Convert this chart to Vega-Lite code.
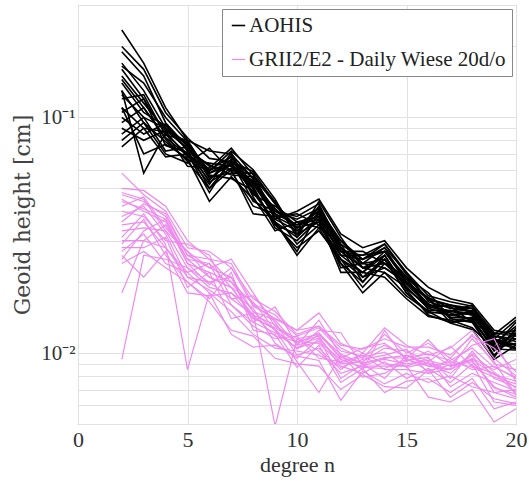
{
"$schema":"https://vega.github.io/schema/vega-lite/v6.json",
"width":438,"height":419,"autosize":{"type":"none"},
"padding":{"left":78,"top":5,"right":13,"bottom":59},
"background":"white",
"config":{"view":{"stroke":"#9a9a9a","strokeWidth":1}},
"datasets":{"d":[
{"g":"A","i":1,"n":2,"v":0.235},{"g":"A","i":1,"n":3,"v":0.17},{"g":"A","i":1,"n":4,"v":0.11},{"g":"A","i":1,"n":5,"v":0.08},{"g":"A","i":1,"n":6,"v":0.072},{"g":"A","i":1,"n":7,"v":0.07},{"g":"A","i":1,"n":8,"v":0.055},{"g":"A","i":1,"n":9,"v":0.04},{"g":"A","i":1,"n":10,"v":0.035},{"g":"A","i":1,"n":11,"v":0.04},{"g":"A","i":1,"n":12,"v":0.029},{"g":"A","i":1,"n":13,"v":0.025},{"g":"A","i":1,"n":14,"v":0.027},{"g":"A","i":1,"n":15,"v":0.021},{"g":"A","i":1,"n":16,"v":0.017},{"g":"A","i":1,"n":17,"v":0.016},{"g":"A","i":1,"n":18,"v":0.015},{"g":"A","i":1,"n":19,"v":0.012},{"g":"A","i":1,"n":20,"v":0.0125},
{"g":"A","i":2,"n":2,"v":0.19},{"g":"A","i":2,"n":3,"v":0.15},{"g":"A","i":2,"n":4,"v":0.095},{"g":"A","i":2,"n":5,"v":0.075},{"g":"A","i":2,"n":6,"v":0.06},{"g":"A","i":2,"n":7,"v":0.068},{"g":"A","i":2,"n":8,"v":0.052},{"g":"A","i":2,"n":9,"v":0.038},{"g":"A","i":2,"n":10,"v":0.034},{"g":"A","i":2,"n":11,"v":0.041},{"g":"A","i":2,"n":12,"v":0.028},{"g":"A","i":2,"n":13,"v":0.024},{"g":"A","i":2,"n":14,"v":0.028},{"g":"A","i":2,"n":15,"v":0.02},{"g":"A","i":2,"n":16,"v":0.016},{"g":"A","i":2,"n":17,"v":0.015},{"g":"A","i":2,"n":18,"v":0.016},{"g":"A","i":2,"n":19,"v":0.011},{"g":"A","i":2,"n":20,"v":0.012},
{"g":"A","i":3,"n":2,"v":0.17},{"g":"A","i":3,"n":3,"v":0.13},{"g":"A","i":3,"n":4,"v":0.09},{"g":"A","i":3,"n":5,"v":0.078},{"g":"A","i":3,"n":6,"v":0.055},{"g":"A","i":3,"n":7,"v":0.064},{"g":"A","i":3,"n":8,"v":0.048},{"g":"A","i":3,"n":9,"v":0.036},{"g":"A","i":3,"n":10,"v":0.031},{"g":"A","i":3,"n":11,"v":0.038},{"g":"A","i":3,"n":12,"v":0.026},{"g":"A","i":3,"n":13,"v":0.022},{"g":"A","i":3,"n":14,"v":0.026},{"g":"A","i":3,"n":15,"v":0.019},{"g":"A","i":3,"n":16,"v":0.0155},{"g":"A","i":3,"n":17,"v":0.0145},{"g":"A","i":3,"n":18,"v":0.014},{"g":"A","i":3,"n":19,"v":0.0105},{"g":"A","i":3,"n":20,"v":0.0115},
{"g":"A","i":4,"n":2,"v":0.16},{"g":"A","i":4,"n":3,"v":0.12},{"g":"A","i":4,"n":4,"v":0.085},{"g":"A","i":4,"n":5,"v":0.07},{"g":"A","i":4,"n":6,"v":0.058},{"g":"A","i":4,"n":7,"v":0.066},{"g":"A","i":4,"n":8,"v":0.05},{"g":"A","i":4,"n":9,"v":0.035},{"g":"A","i":4,"n":10,"v":0.032},{"g":"A","i":4,"n":11,"v":0.036},{"g":"A","i":4,"n":12,"v":0.027},{"g":"A","i":4,"n":13,"v":0.023},{"g":"A","i":4,"n":14,"v":0.024},{"g":"A","i":4,"n":15,"v":0.0195},{"g":"A","i":4,"n":16,"v":0.016},{"g":"A","i":4,"n":17,"v":0.015},{"g":"A","i":4,"n":18,"v":0.0145},{"g":"A","i":4,"n":19,"v":0.011},{"g":"A","i":4,"n":20,"v":0.013},
{"g":"A","i":5,"n":2,"v":0.15},{"g":"A","i":5,"n":3,"v":0.115},{"g":"A","i":5,"n":4,"v":0.088},{"g":"A","i":5,"n":5,"v":0.074},{"g":"A","i":5,"n":6,"v":0.062},{"g":"A","i":5,"n":7,"v":0.06},{"g":"A","i":5,"n":8,"v":0.054},{"g":"A","i":5,"n":9,"v":0.039},{"g":"A","i":5,"n":10,"v":0.029},{"g":"A","i":5,"n":11,"v":0.035},{"g":"A","i":5,"n":12,"v":0.025},{"g":"A","i":5,"n":13,"v":0.021},{"g":"A","i":5,"n":14,"v":0.025},{"g":"A","i":5,"n":15,"v":0.018},{"g":"A","i":5,"n":16,"v":0.015},{"g":"A","i":5,"n":17,"v":0.0145},{"g":"A","i":5,"n":18,"v":0.015},{"g":"A","i":5,"n":19,"v":0.0115},{"g":"A","i":5,"n":20,"v":0.0105},
{"g":"A","i":6,"n":2,"v":0.145},{"g":"A","i":6,"n":3,"v":0.11},{"g":"A","i":6,"n":4,"v":0.082},{"g":"A","i":6,"n":5,"v":0.069},{"g":"A","i":6,"n":6,"v":0.052},{"g":"A","i":6,"n":7,"v":0.071},{"g":"A","i":6,"n":8,"v":0.047},{"g":"A","i":6,"n":9,"v":0.042},{"g":"A","i":6,"n":10,"v":0.036},{"g":"A","i":6,"n":11,"v":0.034},{"g":"A","i":6,"n":12,"v":0.03},{"g":"A","i":6,"n":13,"v":0.024},{"g":"A","i":6,"n":14,"v":0.023},{"g":"A","i":6,"n":15,"v":0.02},{"g":"A","i":6,"n":16,"v":0.017},{"g":"A","i":6,"n":17,"v":0.014},{"g":"A","i":6,"n":18,"v":0.0135},{"g":"A","i":6,"n":19,"v":0.0098},{"g":"A","i":6,"n":20,"v":0.012},
{"g":"A","i":7,"n":2,"v":0.14},{"g":"A","i":7,"n":3,"v":0.105},{"g":"A","i":7,"n":4,"v":0.092},{"g":"A","i":7,"n":5,"v":0.076},{"g":"A","i":7,"n":6,"v":0.056},{"g":"A","i":7,"n":7,"v":0.058},{"g":"A","i":7,"n":8,"v":0.058},{"g":"A","i":7,"n":9,"v":0.037},{"g":"A","i":7,"n":10,"v":0.033},{"g":"A","i":7,"n":11,"v":0.039},{"g":"A","i":7,"n":12,"v":0.026},{"g":"A","i":7,"n":13,"v":0.026},{"g":"A","i":7,"n":14,"v":0.029},{"g":"A","i":7,"n":15,"v":0.022},{"g":"A","i":7,"n":16,"v":0.0165},{"g":"A","i":7,"n":17,"v":0.0155},{"g":"A","i":7,"n":18,"v":0.0155},{"g":"A","i":7,"n":19,"v":0.012},{"g":"A","i":7,"n":20,"v":0.0142},
{"g":"A","i":8,"n":2,"v":0.13},{"g":"A","i":8,"n":3,"v":0.095},{"g":"A","i":8,"n":4,"v":0.079},{"g":"A","i":8,"n":5,"v":0.066},{"g":"A","i":8,"n":6,"v":0.064},{"g":"A","i":8,"n":7,"v":0.062},{"g":"A","i":8,"n":8,"v":0.051},{"g":"A","i":8,"n":9,"v":0.034},{"g":"A","i":8,"n":10,"v":0.03},{"g":"A","i":8,"n":11,"v":0.037},{"g":"A","i":8,"n":12,"v":0.024},{"g":"A","i":8,"n":13,"v":0.02},{"g":"A","i":8,"n":14,"v":0.026},{"g":"A","i":8,"n":15,"v":0.0185},{"g":"A","i":8,"n":16,"v":0.0145},{"g":"A","i":8,"n":17,"v":0.0135},{"g":"A","i":8,"n":18,"v":0.0138},{"g":"A","i":8,"n":19,"v":0.0105},{"g":"A","i":8,"n":20,"v":0.011},
{"g":"A","i":9,"n":2,"v":0.125},{"g":"A","i":9,"n":3,"v":0.1},{"g":"A","i":9,"n":4,"v":0.09},{"g":"A","i":9,"n":5,"v":0.073},{"g":"A","i":9,"n":6,"v":0.05},{"g":"A","i":9,"n":7,"v":0.065},{"g":"A","i":9,"n":8,"v":0.044},{"g":"A","i":9,"n":9,"v":0.04},{"g":"A","i":9,"n":10,"v":0.038},{"g":"A","i":9,"n":11,"v":0.043},{"g":"A","i":9,"n":12,"v":0.028},{"g":"A","i":9,"n":13,"v":0.023},{"g":"A","i":9,"n":14,"v":0.022},{"g":"A","i":9,"n":15,"v":0.019},{"g":"A","i":9,"n":16,"v":0.0155},{"g":"A","i":9,"n":17,"v":0.016},{"g":"A","i":9,"n":18,"v":0.0148},{"g":"A","i":9,"n":19,"v":0.0112},{"g":"A","i":9,"n":20,"v":0.0108},
{"g":"A","i":10,"n":2,"v":0.12},{"g":"A","i":10,"n":3,"v":0.125},{"g":"A","i":10,"n":4,"v":0.084},{"g":"A","i":10,"n":5,"v":0.08},{"g":"A","i":10,"n":6,"v":0.057},{"g":"A","i":10,"n":7,"v":0.055},{"g":"A","i":10,"n":8,"v":0.049},{"g":"A","i":10,"n":9,"v":0.036},{"g":"A","i":10,"n":10,"v":0.027},{"g":"A","i":10,"n":11,"v":0.04},{"g":"A","i":10,"n":12,"v":0.027},{"g":"A","i":10,"n":13,"v":0.027},{"g":"A","i":10,"n":14,"v":0.024},{"g":"A","i":10,"n":15,"v":0.021},{"g":"A","i":10,"n":16,"v":0.018},{"g":"A","i":10,"n":17,"v":0.0142},{"g":"A","i":10,"n":18,"v":0.014},{"g":"A","i":10,"n":19,"v":0.0102},{"g":"A","i":10,"n":20,"v":0.0125},
{"g":"A","i":11,"n":2,"v":0.11},{"g":"A","i":11,"n":3,"v":0.09},{"g":"A","i":11,"n":4,"v":0.087},{"g":"A","i":11,"n":5,"v":0.068},{"g":"A","i":11,"n":6,"v":0.06},{"g":"A","i":11,"n":7,"v":0.063},{"g":"A","i":11,"n":8,"v":0.053},{"g":"A","i":11,"n":9,"v":0.041},{"g":"A","i":11,"n":10,"v":0.034},{"g":"A","i":11,"n":11,"v":0.036},{"g":"A","i":11,"n":12,"v":0.025},{"g":"A","i":11,"n":13,"v":0.022},{"g":"A","i":11,"n":14,"v":0.027},{"g":"A","i":11,"n":15,"v":0.0205},{"g":"A","i":11,"n":16,"v":0.016},{"g":"A","i":11,"n":17,"v":0.0158},{"g":"A","i":11,"n":18,"v":0.0135},{"g":"A","i":11,"n":19,"v":0.0118},{"g":"A","i":11,"n":20,"v":0.0112},
{"g":"A","i":12,"n":2,"v":0.105},{"g":"A","i":12,"n":3,"v":0.12},{"g":"A","i":12,"n":4,"v":0.076},{"g":"A","i":12,"n":5,"v":0.071},{"g":"A","i":12,"n":6,"v":0.054},{"g":"A","i":12,"n":7,"v":0.069},{"g":"A","i":12,"n":8,"v":0.046},{"g":"A","i":12,"n":9,"v":0.033},{"g":"A","i":12,"n":10,"v":0.036},{"g":"A","i":12,"n":11,"v":0.038},{"g":"A","i":12,"n":12,"v":0.023},{"g":"A","i":12,"n":13,"v":0.024},{"g":"A","i":12,"n":14,"v":0.025},{"g":"A","i":12,"n":15,"v":0.018},{"g":"A","i":12,"n":16,"v":0.0148},{"g":"A","i":12,"n":17,"v":0.015},{"g":"A","i":12,"n":18,"v":0.0152},{"g":"A","i":12,"n":19,"v":0.0108},{"g":"A","i":12,"n":20,"v":0.0135},
{"g":"A","i":13,"n":2,"v":0.1},{"g":"A","i":13,"n":3,"v":0.085},{"g":"A","i":13,"n":4,"v":0.094},{"g":"A","i":13,"n":5,"v":0.072},{"g":"A","i":13,"n":6,"v":0.063},{"g":"A","i":13,"n":7,"v":0.057},{"g":"A","i":13,"n":8,"v":0.056},{"g":"A","i":13,"n":9,"v":0.043},{"g":"A","i":13,"n":10,"v":0.032},{"g":"A","i":13,"n":11,"v":0.042},{"g":"A","i":13,"n":12,"v":0.029},{"g":"A","i":13,"n":13,"v":0.021},{"g":"A","i":13,"n":14,"v":0.023},{"g":"A","i":13,"n":15,"v":0.0198},{"g":"A","i":13,"n":16,"v":0.017},{"g":"A","i":13,"n":17,"v":0.0135},{"g":"A","i":13,"n":18,"v":0.0142},{"g":"A","i":13,"n":19,"v":0.0112},{"g":"A","i":13,"n":20,"v":0.0104},
{"g":"A","i":14,"n":2,"v":0.095},{"g":"A","i":14,"n":3,"v":0.11},{"g":"A","i":14,"n":4,"v":0.081},{"g":"A","i":14,"n":5,"v":0.065},{"g":"A","i":14,"n":6,"v":0.05},{"g":"A","i":14,"n":7,"v":0.06},{"g":"A","i":14,"n":8,"v":0.039},{"g":"A","i":14,"n":9,"v":0.038},{"g":"A","i":14,"n":10,"v":0.039},{"g":"A","i":14,"n":11,"v":0.035},{"g":"A","i":14,"n":12,"v":0.026},{"g":"A","i":14,"n":13,"v":0.025},{"g":"A","i":14,"n":14,"v":0.028},{"g":"A","i":14,"n":15,"v":0.022},{"g":"A","i":14,"n":16,"v":0.0175},{"g":"A","i":14,"n":17,"v":0.0165},{"g":"A","i":14,"n":18,"v":0.0158},{"g":"A","i":14,"n":19,"v":0.0122},{"g":"A","i":14,"n":20,"v":0.0118},
{"g":"A","i":15,"n":2,"v":0.09},{"g":"A","i":15,"n":3,"v":0.08},{"g":"A","i":15,"n":4,"v":0.088},{"g":"A","i":15,"n":5,"v":0.077},{"g":"A","i":15,"n":6,"v":0.059},{"g":"A","i":15,"n":7,"v":0.072},{"g":"A","i":15,"n":8,"v":0.06},{"g":"A","i":15,"n":9,"v":0.045},{"g":"A","i":15,"n":10,"v":0.031},{"g":"A","i":15,"n":11,"v":0.044},{"g":"A","i":15,"n":12,"v":0.031},{"g":"A","i":15,"n":13,"v":0.023},{"g":"A","i":15,"n":14,"v":0.026},{"g":"A","i":15,"n":15,"v":0.0188},{"g":"A","i":15,"n":16,"v":0.0158},{"g":"A","i":15,"n":17,"v":0.0148},{"g":"A","i":15,"n":18,"v":0.0138},{"g":"A","i":15,"n":19,"v":0.0096},{"g":"A","i":15,"n":20,"v":0.0128},
{"g":"A","i":16,"n":2,"v":0.085},{"g":"A","i":16,"n":3,"v":0.1},{"g":"A","i":16,"n":4,"v":0.072},{"g":"A","i":16,"n":5,"v":0.075},{"g":"A","i":16,"n":6,"v":0.053},{"g":"A","i":16,"n":7,"v":0.061},{"g":"A","i":16,"n":8,"v":0.05},{"g":"A","i":16,"n":9,"v":0.035},{"g":"A","i":16,"n":10,"v":0.028},{"g":"A","i":16,"n":11,"v":0.033},{"g":"A","i":16,"n":12,"v":0.025},{"g":"A","i":16,"n":13,"v":0.019},{"g":"A","i":16,"n":14,"v":0.024},{"g":"A","i":16,"n":15,"v":0.021},{"g":"A","i":16,"n":16,"v":0.0152},{"g":"A","i":16,"n":17,"v":0.0152},{"g":"A","i":16,"n":18,"v":0.0145},{"g":"A","i":16,"n":19,"v":0.0114},{"g":"A","i":16,"n":20,"v":0.0109},
{"g":"A","i":17,"n":2,"v":0.08},{"g":"A","i":17,"n":3,"v":0.095},{"g":"A","i":17,"n":4,"v":0.07},{"g":"A","i":17,"n":5,"v":0.064},{"g":"A","i":17,"n":6,"v":0.074},{"g":"A","i":17,"n":7,"v":0.059},{"g":"A","i":17,"n":8,"v":0.042},{"g":"A","i":17,"n":9,"v":0.039},{"g":"A","i":17,"n":10,"v":0.035},{"g":"A","i":17,"n":11,"v":0.037},{"g":"A","i":17,"n":12,"v":0.022},{"g":"A","i":17,"n":13,"v":0.022},{"g":"A","i":17,"n":14,"v":0.021},{"g":"A","i":17,"n":15,"v":0.017},{"g":"A","i":17,"n":16,"v":0.0143},{"g":"A","i":17,"n":17,"v":0.0138},{"g":"A","i":17,"n":18,"v":0.0128},{"g":"A","i":17,"n":19,"v":0.0104},{"g":"A","i":17,"n":20,"v":0.0103},
{"g":"A","i":18,"n":2,"v":0.075},{"g":"A","i":18,"n":3,"v":0.09},{"g":"A","i":18,"n":4,"v":0.068},{"g":"A","i":18,"n":5,"v":0.07},{"g":"A","i":18,"n":6,"v":0.048},{"g":"A","i":18,"n":7,"v":0.067},{"g":"A","i":18,"n":8,"v":0.055},{"g":"A","i":18,"n":9,"v":0.037},{"g":"A","i":18,"n":10,"v":0.04},{"g":"A","i":18,"n":11,"v":0.045},{"g":"A","i":18,"n":12,"v":0.032},{"g":"A","i":18,"n":13,"v":0.028},{"g":"A","i":18,"n":14,"v":0.03},{"g":"A","i":18,"n":15,"v":0.023},{"g":"A","i":18,"n":16,"v":0.019},{"g":"A","i":18,"n":17,"v":0.017},{"g":"A","i":18,"n":18,"v":0.0162},{"g":"A","i":18,"n":19,"v":0.0125},{"g":"A","i":18,"n":20,"v":0.012},
{"g":"A","i":19,"n":2,"v":0.13},{"g":"A","i":19,"n":3,"v":0.058},{"g":"A","i":19,"n":4,"v":0.086},{"g":"A","i":19,"n":5,"v":0.062},{"g":"A","i":19,"n":6,"v":0.061},{"g":"A","i":19,"n":7,"v":0.074},{"g":"A","i":19,"n":8,"v":0.057},{"g":"A","i":19,"n":9,"v":0.044},{"g":"A","i":19,"n":10,"v":0.033},{"g":"A","i":19,"n":11,"v":0.039},{"g":"A","i":19,"n":12,"v":0.028},{"g":"A","i":19,"n":13,"v":0.02},{"g":"A","i":19,"n":14,"v":0.025},{"g":"A","i":19,"n":15,"v":0.02},{"g":"A","i":19,"n":16,"v":0.0162},{"g":"A","i":19,"n":17,"v":0.0144},{"g":"A","i":19,"n":18,"v":0.0148},{"g":"A","i":19,"n":19,"v":0.0106},{"g":"A","i":19,"n":20,"v":0.0122},
{"g":"A","i":20,"n":2,"v":0.11},{"g":"A","i":20,"n":3,"v":0.07},{"g":"A","i":20,"n":4,"v":0.077},{"g":"A","i":20,"n":5,"v":0.067},{"g":"A","i":20,"n":6,"v":0.044},{"g":"A","i":20,"n":7,"v":0.056},{"g":"A","i":20,"n":8,"v":0.045},{"g":"A","i":20,"n":9,"v":0.036},{"g":"A","i":20,"n":10,"v":0.026},{"g":"A","i":20,"n":11,"v":0.034},{"g":"A","i":20,"n":12,"v":0.024},{"g":"A","i":20,"n":13,"v":0.018},{"g":"A","i":20,"n":14,"v":0.022},{"g":"A","i":20,"n":15,"v":0.0175},{"g":"A","i":20,"n":16,"v":0.015},{"g":"A","i":20,"n":17,"v":0.0134},{"g":"A","i":20,"n":18,"v":0.0126},{"g":"A","i":20,"n":19,"v":0.0094},{"g":"A","i":20,"n":20,"v":0.0108},
{"g":"A","i":21,"n":2,"v":0.165},{"g":"A","i":21,"n":3,"v":0.14},{"g":"A","i":21,"n":4,"v":0.1},{"g":"A","i":21,"n":5,"v":0.079},{"g":"A","i":21,"n":6,"v":0.058},{"g":"A","i":21,"n":7,"v":0.063},{"g":"A","i":21,"n":8,"v":0.052},{"g":"A","i":21,"n":9,"v":0.04},{"g":"A","i":21,"n":10,"v":0.037},{"g":"A","i":21,"n":11,"v":0.041},{"g":"A","i":21,"n":12,"v":0.03},{"g":"A","i":21,"n":13,"v":0.025},{"g":"A","i":21,"n":14,"v":0.029},{"g":"A","i":21,"n":15,"v":0.0215},{"g":"A","i":21,"n":16,"v":0.0168},{"g":"A","i":21,"n":17,"v":0.016},{"g":"A","i":21,"n":18,"v":0.0155},{"g":"A","i":21,"n":19,"v":0.0115},{"g":"A","i":21,"n":20,"v":0.0138},
{"g":"A","i":22,"n":2,"v":0.2},{"g":"A","i":22,"n":3,"v":0.16},{"g":"A","i":22,"n":4,"v":0.105},{"g":"A","i":22,"n":5,"v":0.082},{"g":"A","i":22,"n":6,"v":0.067},{"g":"A","i":22,"n":7,"v":0.065},{"g":"A","i":22,"n":8,"v":0.059},{"g":"A","i":22,"n":9,"v":0.043},{"g":"A","i":22,"n":10,"v":0.034},{"g":"A","i":22,"n":11,"v":0.04},{"g":"A","i":22,"n":12,"v":0.027},{"g":"A","i":22,"n":13,"v":0.026},{"g":"A","i":22,"n":14,"v":0.027},{"g":"A","i":22,"n":15,"v":0.02},{"g":"A","i":22,"n":16,"v":0.0172},{"g":"A","i":22,"n":17,"v":0.0155},{"g":"A","i":22,"n":18,"v":0.015},{"g":"A","i":22,"n":19,"v":0.0118},{"g":"A","i":22,"n":20,"v":0.0115},
{"g":"G","i":23,"n":2,"v":0.058},{"g":"G","i":23,"n":3,"v":0.047},{"g":"G","i":23,"n":4,"v":0.04},{"g":"G","i":23,"n":5,"v":0.028},{"g":"G","i":23,"n":6,"v":0.027},{"g":"G","i":23,"n":7,"v":0.023},{"g":"G","i":23,"n":8,"v":0.017},{"g":"G","i":23,"n":9,"v":0.015},{"g":"G","i":23,"n":10,"v":0.012},{"g":"G","i":23,"n":11,"v":0.013},{"g":"G","i":23,"n":12,"v":0.0105},{"g":"G","i":23,"n":13,"v":0.0095},{"g":"G","i":23,"n":14,"v":0.012},{"g":"G","i":23,"n":15,"v":0.01},{"g":"G","i":23,"n":16,"v":0.011},{"g":"G","i":23,"n":17,"v":0.0095},{"g":"G","i":23,"n":18,"v":0.012},{"g":"G","i":23,"n":19,"v":0.009},{"g":"G","i":23,"n":20,"v":0.0085},
{"g":"G","i":24,"n":2,"v":0.05},{"g":"G","i":24,"n":3,"v":0.049},{"g":"G","i":24,"n":4,"v":0.042},{"g":"G","i":24,"n":5,"v":0.03},{"g":"G","i":24,"n":6,"v":0.025},{"g":"G","i":24,"n":7,"v":0.024},{"g":"G","i":24,"n":8,"v":0.016},{"g":"G","i":24,"n":9,"v":0.014},{"g":"G","i":24,"n":10,"v":0.0125},{"g":"G","i":24,"n":11,"v":0.0148},{"g":"G","i":24,"n":12,"v":0.011},{"g":"G","i":24,"n":13,"v":0.01},{"g":"G","i":24,"n":14,"v":0.0128},{"g":"G","i":24,"n":15,"v":0.0108},{"g":"G","i":24,"n":16,"v":0.0098},{"g":"G","i":24,"n":17,"v":0.0105},{"g":"G","i":24,"n":18,"v":0.0125},{"g":"G","i":24,"n":19,"v":0.0095},{"g":"G","i":24,"n":20,"v":0.008},
{"g":"G","i":25,"n":2,"v":0.047},{"g":"G","i":25,"n":3,"v":0.044},{"g":"G","i":25,"n":4,"v":0.038},{"g":"G","i":25,"n":5,"v":0.026},{"g":"G","i":25,"n":6,"v":0.023},{"g":"G","i":25,"n":7,"v":0.025},{"g":"G","i":25,"n":8,"v":0.018},{"g":"G","i":25,"n":9,"v":0.013},{"g":"G","i":25,"n":10,"v":0.0115},{"g":"G","i":25,"n":11,"v":0.012},{"g":"G","i":25,"n":12,"v":0.0095},{"g":"G","i":25,"n":13,"v":0.0105},{"g":"G","i":25,"n":14,"v":0.011},{"g":"G","i":25,"n":15,"v":0.0095},{"g":"G","i":25,"n":16,"v":0.0114},{"g":"G","i":25,"n":17,"v":0.009},{"g":"G","i":25,"n":18,"v":0.0108},{"g":"G","i":25,"n":19,"v":0.0115},{"g":"G","i":25,"n":20,"v":0.0075},
{"g":"G","i":26,"n":2,"v":0.045},{"g":"G","i":26,"n":3,"v":0.04},{"g":"G","i":26,"n":4,"v":0.036},{"g":"G","i":26,"n":5,"v":0.024},{"g":"G","i":26,"n":6,"v":0.022},{"g":"G","i":26,"n":7,"v":0.02},{"g":"G","i":26,"n":8,"v":0.015},{"g":"G","i":26,"n":9,"v":0.0125},{"g":"G","i":26,"n":10,"v":0.0105},{"g":"G","i":26,"n":11,"v":0.0125},{"g":"G","i":26,"n":12,"v":0.0122},{"g":"G","i":26,"n":13,"v":0.0088},{"g":"G","i":26,"n":14,"v":0.0095},{"g":"G","i":26,"n":15,"v":0.0098},{"g":"G","i":26,"n":16,"v":0.0088},{"g":"G","i":26,"n":17,"v":0.0085},{"g":"G","i":26,"n":18,"v":0.0095},{"g":"G","i":26,"n":19,"v":0.0085},{"g":"G","i":26,"n":20,"v":0.0094},
{"g":"G","i":27,"n":2,"v":0.042},{"g":"G","i":27,"n":3,"v":0.046},{"g":"G","i":27,"n":4,"v":0.034},{"g":"G","i":27,"n":5,"v":0.027},{"g":"G","i":27,"n":6,"v":0.021},{"g":"G","i":27,"n":7,"v":0.019},{"g":"G","i":27,"n":8,"v":0.0145},{"g":"G","i":27,"n":9,"v":0.0118},{"g":"G","i":27,"n":10,"v":0.0112},{"g":"G","i":27,"n":11,"v":0.011},{"g":"G","i":27,"n":12,"v":0.009},{"g":"G","i":27,"n":13,"v":0.0092},{"g":"G","i":27,"n":14,"v":0.0105},{"g":"G","i":27,"n":15,"v":0.0102},{"g":"G","i":27,"n":16,"v":0.0092},{"g":"G","i":27,"n":17,"v":0.0107},{"g":"G","i":27,"n":18,"v":0.0088},{"g":"G","i":27,"n":19,"v":0.0082},{"g":"G","i":27,"n":20,"v":0.0068},
{"g":"G","i":28,"n":2,"v":0.04},{"g":"G","i":28,"n":3,"v":0.038},{"g":"G","i":28,"n":4,"v":0.03},{"g":"G","i":28,"n":5,"v":0.029},{"g":"G","i":28,"n":6,"v":0.026},{"g":"G","i":28,"n":7,"v":0.017},{"g":"G","i":28,"n":8,"v":0.0175},{"g":"G","i":28,"n":9,"v":0.0135},{"g":"G","i":28,"n":10,"v":0.0098},{"g":"G","i":28,"n":11,"v":0.0105},{"g":"G","i":28,"n":12,"v":0.0085},{"g":"G","i":28,"n":13,"v":0.01},{"g":"G","i":28,"n":14,"v":0.009},{"g":"G","i":28,"n":15,"v":0.0088},{"g":"G","i":28,"n":16,"v":0.0095},{"g":"G","i":28,"n":17,"v":0.0078},{"g":"G","i":28,"n":18,"v":0.0102},{"g":"G","i":28,"n":19,"v":0.0078},{"g":"G","i":28,"n":20,"v":0.0072},
{"g":"G","i":29,"n":2,"v":0.038},{"g":"G","i":29,"n":3,"v":0.042},{"g":"G","i":29,"n":4,"v":0.032},{"g":"G","i":29,"n":5,"v":0.021},{"g":"G","i":29,"n":6,"v":0.02},{"g":"G","i":29,"n":7,"v":0.021},{"g":"G","i":29,"n":8,"v":0.0135},{"g":"G","i":29,"n":9,"v":0.0157},{"g":"G","i":29,"n":10,"v":0.0108},{"g":"G","i":29,"n":11,"v":0.0138},{"g":"G","i":29,"n":12,"v":0.0098},{"g":"G","i":29,"n":13,"v":0.0085},{"g":"G","i":29,"n":14,"v":0.0125},{"g":"G","i":29,"n":15,"v":0.0092},{"g":"G","i":29,"n":16,"v":0.0102},{"g":"G","i":29,"n":17,"v":0.0088},{"g":"G","i":29,"n":18,"v":0.0092},{"g":"G","i":29,"n":19,"v":0.0072},{"g":"G","i":29,"n":20,"v":0.0065},
{"g":"G","i":30,"n":2,"v":0.035},{"g":"G","i":30,"n":3,"v":0.036},{"g":"G","i":30,"n":4,"v":0.028},{"g":"G","i":30,"n":5,"v":0.022},{"g":"G","i":30,"n":6,"v":0.024},{"g":"G","i":30,"n":7,"v":0.016},{"g":"G","i":30,"n":8,"v":0.013},{"g":"G","i":30,"n":9,"v":0.0115},{"g":"G","i":30,"n":10,"v":0.0118},{"g":"G","i":30,"n":11,"v":0.0095},{"g":"G","i":30,"n":12,"v":0.0092},{"g":"G","i":30,"n":13,"v":0.0098},{"g":"G","i":30,"n":14,"v":0.0085},{"g":"G","i":30,"n":15,"v":0.0085},{"g":"G","i":30,"n":16,"v":0.0082},{"g":"G","i":30,"n":17,"v":0.0095},{"g":"G","i":30,"n":18,"v":0.0085},{"g":"G","i":30,"n":19,"v":0.0088},{"g":"G","i":30,"n":20,"v":0.0078},
{"g":"G","i":31,"n":2,"v":0.033},{"g":"G","i":31,"n":3,"v":0.034},{"g":"G","i":31,"n":4,"v":0.033},{"g":"G","i":31,"n":5,"v":0.023},{"g":"G","i":31,"n":6,"v":0.019},{"g":"G","i":31,"n":7,"v":0.018},{"g":"G","i":31,"n":8,"v":0.0155},{"g":"G","i":31,"n":9,"v":0.011},{"g":"G","i":31,"n":10,"v":0.0095},{"g":"G","i":31,"n":11,"v":0.0115},{"g":"G","i":31,"n":12,"v":0.0078},{"g":"G","i":31,"n":13,"v":0.009},{"g":"G","i":31,"n":14,"v":0.0078},{"g":"G","i":31,"n":15,"v":0.0098},{"g":"G","i":31,"n":16,"v":0.009},{"g":"G","i":31,"n":17,"v":0.0082},{"g":"G","i":31,"n":18,"v":0.0098},{"g":"G","i":31,"n":19,"v":0.0068},{"g":"G","i":31,"n":20,"v":0.007},
{"g":"G","i":32,"n":2,"v":0.031},{"g":"G","i":32,"n":3,"v":0.039},{"g":"G","i":32,"n":4,"v":0.029},{"g":"G","i":32,"n":5,"v":0.0085},{"g":"G","i":32,"n":6,"v":0.018},{"g":"G","i":32,"n":7,"v":0.015},{"g":"G","i":32,"n":8,"v":0.012},{"g":"G","i":32,"n":9,"v":0.0105},{"g":"G","i":32,"n":10,"v":0.0102},{"g":"G","i":32,"n":11,"v":0.0098},{"g":"G","i":32,"n":12,"v":0.0088},{"g":"G","i":32,"n":13,"v":0.0082},{"g":"G","i":32,"n":14,"v":0.0092},{"g":"G","i":32,"n":15,"v":0.0078},{"g":"G","i":32,"n":16,"v":0.0086},{"g":"G","i":32,"n":17,"v":0.0075},{"g":"G","i":32,"n":18,"v":0.009},{"g":"G","i":32,"n":19,"v":0.0062},{"g":"G","i":32,"n":20,"v":0.006},
{"g":"G","i":33,"n":2,"v":0.03},{"g":"G","i":33,"n":3,"v":0.03},{"g":"G","i":33,"n":4,"v":0.035},{"g":"G","i":33,"n":5,"v":0.025},{"g":"G","i":33,"n":6,"v":0.021},{"g":"G","i":33,"n":7,"v":0.019},{"g":"G","i":33,"n":8,"v":0.0165},{"g":"G","i":33,"n":9,"v":0.0125},{"g":"G","i":33,"n":10,"v":0.0092},{"g":"G","i":33,"n":11,"v":0.0068},{"g":"G","i":33,"n":12,"v":0.0098},{"g":"G","i":33,"n":13,"v":0.0079},{"g":"G","i":33,"n":14,"v":0.0082},{"g":"G","i":33,"n":15,"v":0.0093},{"g":"G","i":33,"n":16,"v":0.0096},{"g":"G","i":33,"n":17,"v":0.0072},{"g":"G","i":33,"n":18,"v":0.0082},{"g":"G","i":33,"n":19,"v":0.0075},{"g":"G","i":33,"n":20,"v":0.0069},
{"g":"G","i":34,"n":2,"v":0.029},{"g":"G","i":34,"n":3,"v":0.037},{"g":"G","i":34,"n":4,"v":0.026},{"g":"G","i":34,"n":5,"v":0.02},{"g":"G","i":34,"n":6,"v":0.017},{"g":"G","i":34,"n":7,"v":0.022},{"g":"G","i":34,"n":8,"v":0.0125},{"g":"G","i":34,"n":9,"v":0.012},{"g":"G","i":34,"n":10,"v":0.0087},{"g":"G","i":34,"n":11,"v":0.0108},{"g":"G","i":34,"n":12,"v":0.0075},{"g":"G","i":34,"n":13,"v":0.0086},{"g":"G","i":34,"n":14,"v":0.0068},{"g":"G","i":34,"n":15,"v":0.0076},{"g":"G","i":34,"n":16,"v":0.0078},{"g":"G","i":34,"n":17,"v":0.0068},{"g":"G","i":34,"n":18,"v":0.0078},{"g":"G","i":34,"n":19,"v":0.0058},{"g":"G","i":34,"n":20,"v":0.0062},
{"g":"G","i":35,"n":2,"v":0.028},{"g":"G","i":35,"n":3,"v":0.028},{"g":"G","i":35,"n":4,"v":0.031},{"g":"G","i":35,"n":5,"v":0.019},{"g":"G","i":35,"n":6,"v":0.022},{"g":"G","i":35,"n":7,"v":0.014},{"g":"G","i":35,"n":8,"v":0.0148},{"g":"G","i":35,"n":9,"v":0.0049},{"g":"G","i":35,"n":10,"v":0.0115},{"g":"G","i":35,"n":11,"v":0.0102},{"g":"G","i":35,"n":12,"v":0.0082},{"g":"G","i":35,"n":13,"v":0.0088},{"g":"G","i":35,"n":14,"v":0.0088},{"g":"G","i":35,"n":15,"v":0.0088},{"g":"G","i":35,"n":16,"v":0.0065},{"g":"G","i":35,"n":17,"v":0.0062},{"g":"G","i":35,"n":18,"v":0.007},{"g":"G","i":35,"n":19,"v":0.0051},{"g":"G","i":35,"n":20,"v":0.0058},
{"g":"G","i":36,"n":2,"v":0.027},{"g":"G","i":36,"n":3,"v":0.032},{"g":"G","i":36,"n":4,"v":0.024},{"g":"G","i":36,"n":5,"v":0.022},{"g":"G","i":36,"n":6,"v":0.018},{"g":"G","i":36,"n":7,"v":0.012},{"g":"G","i":36,"n":8,"v":0.0106},{"g":"G","i":36,"n":9,"v":0.0108},{"g":"G","i":36,"n":10,"v":0.0097},{"g":"G","i":36,"n":11,"v":0.0093},{"g":"G","i":36,"n":12,"v":0.0063},{"g":"G","i":36,"n":13,"v":0.0084},{"g":"G","i":36,"n":14,"v":0.0074},{"g":"G","i":36,"n":15,"v":0.0082},{"g":"G","i":36,"n":16,"v":0.0075},{"g":"G","i":36,"n":17,"v":0.008},{"g":"G","i":36,"n":18,"v":0.0072},{"g":"G","i":36,"n":19,"v":0.0068},{"g":"G","i":36,"n":20,"v":0.0064},
{"g":"G","i":37,"n":2,"v":0.026},{"g":"G","i":37,"n":3,"v":0.021},{"g":"G","i":37,"n":4,"v":0.027},{"g":"G","i":37,"n":5,"v":0.018},{"g":"G","i":37,"n":6,"v":0.0175},{"g":"G","i":37,"n":7,"v":0.018},{"g":"G","i":37,"n":8,"v":0.014},{"g":"G","i":37,"n":9,"v":0.0128},{"g":"G","i":37,"n":10,"v":0.0112},{"g":"G","i":37,"n":11,"v":0.0118},{"g":"G","i":37,"n":12,"v":0.0087},{"g":"G","i":37,"n":13,"v":0.0094},{"g":"G","i":37,"n":14,"v":0.0098},{"g":"G","i":37,"n":15,"v":0.0104},{"g":"G","i":37,"n":16,"v":0.0082},{"g":"G","i":37,"n":17,"v":0.0086},{"g":"G","i":37,"n":18,"v":0.0115},{"g":"G","i":37,"n":19,"v":0.0092},{"g":"G","i":37,"n":20,"v":0.0066},
{"g":"G","i":38,"n":2,"v":0.025},{"g":"G","i":38,"n":3,"v":0.033},{"g":"G","i":38,"n":4,"v":0.037},{"g":"G","i":38,"n":5,"v":0.024},{"g":"G","i":38,"n":6,"v":0.0195},{"g":"G","i":38,"n":7,"v":0.023},{"g":"G","i":38,"n":8,"v":0.0158},{"g":"G","i":38,"n":9,"v":0.014},{"g":"G","i":38,"n":10,"v":0.0125},{"g":"G","i":38,"n":11,"v":0.013},{"g":"G","i":38,"n":12,"v":0.0108},{"g":"G","i":38,"n":13,"v":0.0104},{"g":"G","i":38,"n":14,"v":0.0115},{"g":"G","i":38,"n":15,"v":0.0106},{"g":"G","i":38,"n":16,"v":0.0106},{"g":"G","i":38,"n":17,"v":0.0098},{"g":"G","i":38,"n":18,"v":0.0118},{"g":"G","i":38,"n":19,"v":0.0105},{"g":"G","i":38,"n":20,"v":0.0083},
{"g":"G","i":39,"n":2,"v":0.024},{"g":"G","i":39,"n":3,"v":0.027},{"g":"G","i":39,"n":4,"v":0.023},{"g":"G","i":39,"n":5,"v":0.02},{"g":"G","i":39,"n":6,"v":0.0165},{"g":"G","i":39,"n":7,"v":0.0125},{"g":"G","i":39,"n":8,"v":0.0118},{"g":"G","i":39,"n":9,"v":0.0095},{"g":"G","i":39,"n":10,"v":0.009},{"g":"G","i":39,"n":11,"v":0.0088},{"g":"G","i":39,"n":12,"v":0.007},{"g":"G","i":39,"n":13,"v":0.0081},{"g":"G","i":39,"n":14,"v":0.0072},{"g":"G","i":39,"n":15,"v":0.0071},{"g":"G","i":39,"n":16,"v":0.0085},{"g":"G","i":39,"n":17,"v":0.0065},{"g":"G","i":39,"n":18,"v":0.0075},{"g":"G","i":39,"n":19,"v":0.0064},{"g":"G","i":39,"n":20,"v":0.0061},
{"g":"G","i":40,"n":2,"v":0.018},{"g":"G","i":40,"n":3,"v":0.03},{"g":"G","i":40,"n":4,"v":0.028},{"g":"G","i":40,"n":5,"v":0.021},{"g":"G","i":40,"n":6,"v":0.0185},{"g":"G","i":40,"n":7,"v":0.016},{"g":"G","i":40,"n":8,"v":0.0135},{"g":"G","i":40,"n":9,"v":0.0122},{"g":"G","i":40,"n":10,"v":0.0105},{"g":"G","i":40,"n":11,"v":0.0112},{"g":"G","i":40,"n":12,"v":0.0094},{"g":"G","i":40,"n":13,"v":0.0087},{"g":"G","i":40,"n":14,"v":0.0086},{"g":"G","i":40,"n":15,"v":0.0094},{"g":"G","i":40,"n":16,"v":0.0088},{"g":"G","i":40,"n":17,"v":0.0092},{"g":"G","i":40,"n":18,"v":0.0087},{"g":"G","i":40,"n":19,"v":0.0079},{"g":"G","i":40,"n":20,"v":0.0074},
{"g":"G","i":41,"n":2,"v":0.0094},{"g":"G","i":41,"n":3,"v":0.026},{"g":"G","i":41,"n":4,"v":0.025},{"g":"G","i":41,"n":5,"v":0.023},{"g":"G","i":41,"n":6,"v":0.02},{"g":"G","i":41,"n":7,"v":0.017},{"g":"G","i":41,"n":8,"v":0.0145},{"g":"G","i":41,"n":9,"v":0.0132},{"g":"G","i":41,"n":10,"v":0.011},{"g":"G","i":41,"n":11,"v":0.0122},{"g":"G","i":41,"n":12,"v":0.0096},{"g":"G","i":41,"n":13,"v":0.0091},{"g":"G","i":41,"n":14,"v":0.0094},{"g":"G","i":41,"n":15,"v":0.009},{"g":"G","i":41,"n":16,"v":0.0093},{"g":"G","i":41,"n":17,"v":0.0088},{"g":"G","i":41,"n":18,"v":0.0094},{"g":"G","i":41,"n":19,"v":0.0081},{"g":"G","i":41,"n":20,"v":0.0076},
{"g":"G","i":42,"n":2,"v":0.036},{"g":"G","i":42,"n":3,"v":0.043},{"g":"G","i":42,"n":4,"v":0.039},{"g":"G","i":42,"n":5,"v":0.026},{"g":"G","i":42,"n":6,"v":0.025},{"g":"G","i":42,"n":7,"v":0.02},{"g":"G","i":42,"n":8,"v":0.0162},{"g":"G","i":42,"n":9,"v":0.0145},{"g":"G","i":42,"n":10,"v":0.0118},{"g":"G","i":42,"n":11,"v":0.0128},{"g":"G","i":42,"n":12,"v":0.0102},{"g":"G","i":42,"n":13,"v":0.0097},{"g":"G","i":42,"n":14,"v":0.0108},{"g":"G","i":42,"n":15,"v":0.0096},{"g":"G","i":42,"n":16,"v":0.0099},{"g":"G","i":42,"n":17,"v":0.0093},{"g":"G","i":42,"n":18,"v":0.0105},{"g":"G","i":42,"n":19,"v":0.0087},{"g":"G","i":42,"n":20,"v":0.0079},
{"g":"G","i":43,"n":2,"v":0.048},{"g":"G","i":43,"n":3,"v":0.045},{"g":"G","i":43,"n":4,"v":0.033},{"g":"G","i":43,"n":5,"v":0.027},{"g":"G","i":43,"n":6,"v":0.023},{"g":"G","i":43,"n":7,"v":0.021},{"g":"G","i":43,"n":8,"v":0.015},{"g":"G","i":43,"n":9,"v":0.0138},{"g":"G","i":43,"n":10,"v":0.0108},{"g":"G","i":43,"n":11,"v":0.0116},{"g":"G","i":43,"n":12,"v":0.0091},{"g":"G","i":43,"n":13,"v":0.0096},{"g":"G","i":43,"n":14,"v":0.0101},{"g":"G","i":43,"n":15,"v":0.0087},{"g":"G","i":43,"n":16,"v":0.0091},{"g":"G","i":43,"n":17,"v":0.0085},{"g":"G","i":43,"n":18,"v":0.0099},{"g":"G","i":43,"n":19,"v":0.0083},{"g":"G","i":43,"n":20,"v":0.0071},
{"g":"G","i":44,"n":2,"v":0.044},{"g":"G","i":44,"n":3,"v":0.041},{"g":"G","i":44,"n":4,"v":0.037},{"g":"G","i":44,"n":5,"v":0.025},{"g":"G","i":44,"n":6,"v":0.024},{"g":"G","i":44,"n":7,"v":0.019},{"g":"G","i":44,"n":8,"v":0.0142},{"g":"G","i":44,"n":9,"v":0.0126},{"g":"G","i":44,"n":10,"v":0.0104},{"g":"G","i":44,"n":11,"v":0.012},{"g":"G","i":44,"n":12,"v":0.0099},{"g":"G","i":44,"n":13,"v":0.009},{"g":"G","i":44,"n":14,"v":0.0096},{"g":"G","i":44,"n":15,"v":0.0095},{"g":"G","i":44,"n":16,"v":0.0084},{"g":"G","i":44,"n":17,"v":0.0089},{"g":"G","i":44,"n":18,"v":0.0093},{"g":"G","i":44,"n":19,"v":0.0071},{"g":"G","i":44,"n":20,"v":0.0067}
]},
"data":{"name":"d"},
"mark":{"type":"line","clip":true},
"encoding":{
"x":{"field":"n","type":"quantitative","scale":{"domain":[0,20],"nice":false},
 "axis":{"title":"degree n","values":[0,5,10,15,20],"grid":true,"gridColor":"#e2e2e2","ticks":false,"domain":false,
 "labelFont":"Liberation Serif","labelFontSize":22,"labelColor":"#333","labelPadding":5,"labelFlush":false,
 "titleFont":"Liberation Serif","titleFontSize":22,"titleFontWeight":"normal","titleColor":"#333","titlePadding":4}},
"y":{"field":"v","type":"quantitative","scale":{"type":"log","domain":[0.005,0.3],"nice":false},
 "axis":{"title":"Geoid height [cm]","values":[0.005,0.006,0.007,0.008,0.009,0.01,0.02,0.03,0.04,0.05,0.06,0.07,0.08,0.09,0.1,0.2,0.3],
 "labelExpr":"datum.value == 0.1 ? '10⁻¹' : (datum.value == 0.01 ? '10⁻²' : '')",
 "grid":true,"gridColor":"#e2e2e2","ticks":false,"domain":false,
 "labelFont":"Liberation Serif","labelFontSize":21,"labelColor":"#333","labelPadding":3,
 "titleFont":"DejaVu Serif","titleFontSize":22,"titleFontWeight":"normal","titleColor":"#444","titlePadding":6}},
"color":{"field":"g","type":"nominal","scale":{"domain":["A","G"],"range":["#000000","#ee88ee"]},
 "legend":{"title":null,"orient":"top-right","offset":4,"symbolType":"stroke","symbolSize":180,"symbolStrokeWidth":1.5,
 "labelFont":"Liberation Serif","labelFontSize":21,"labelColor":"#222","labelOffset":0,"labelLimit":0,"rowPadding":12,
 "strokeColor":"#888","fillColor":"white","padding":6,
 "labelExpr":"datum.label == 'A' ? 'AOHIS' : 'GRII2/E2 - Daily Wiese 20d/o'"}},
"strokeWidth":{"field":"g","type":"nominal","scale":{"domain":["A","G"],"range":[1.6,1.15]},"legend":null},
"detail":{"field":"i","type":"nominal"}
}
}
